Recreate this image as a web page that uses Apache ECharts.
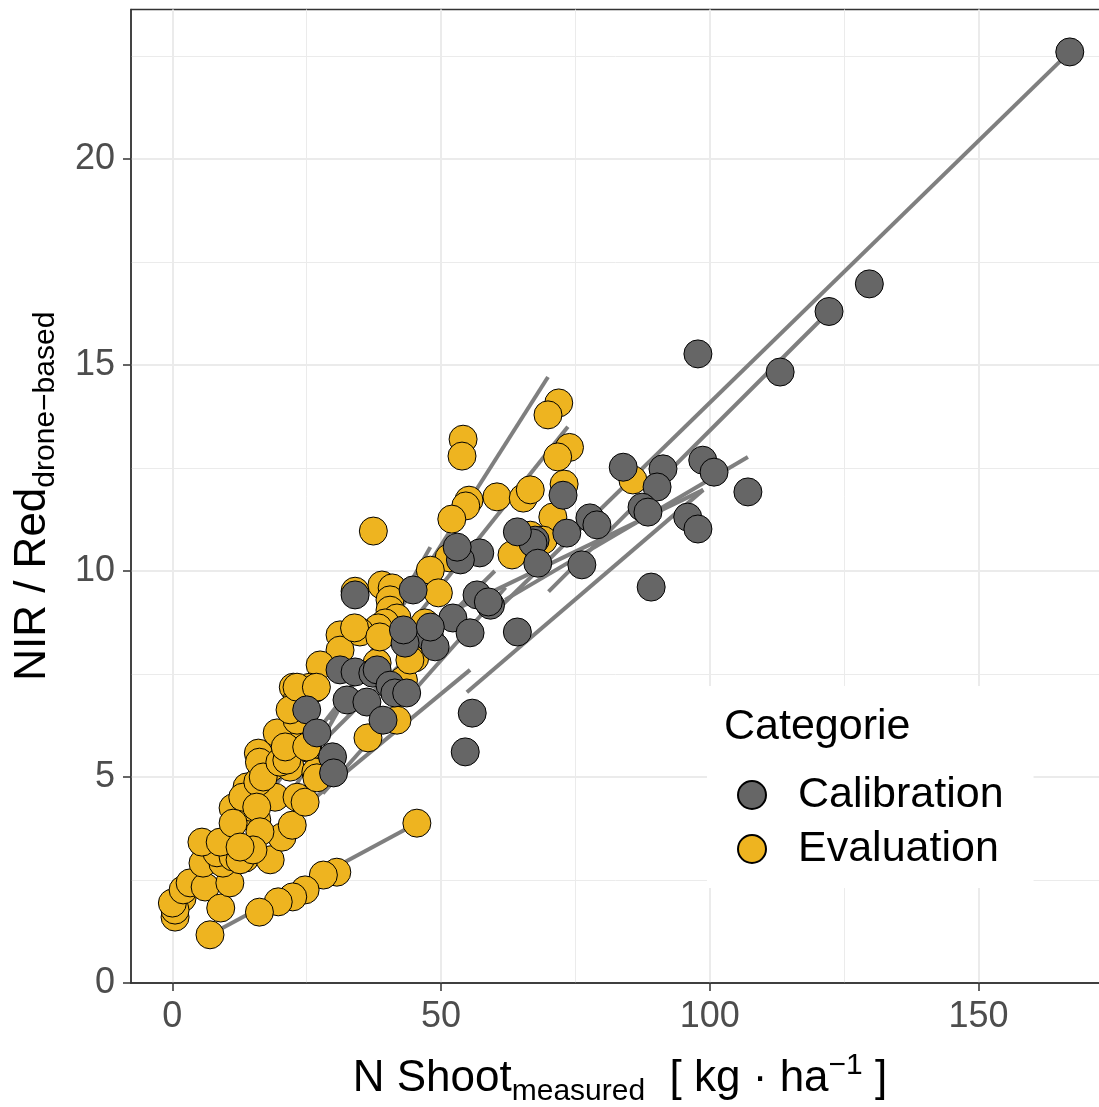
<!DOCTYPE html>
<html><head><meta charset="utf-8">
<script src="https://cdn.jsdelivr.net/npm/echarts@6/dist/echarts.min.js"></script>
<style>html,body{margin:0;padding:0;background:#fff}#c{width:1099px;height:1107px}</style>
</head><body><div id="c"></div>
<script>
const xTicks = [0, 50, 100, 150];
const xMinor = [25, 75, 125];
const yTicks = [0, 5, 10, 15, 20];
const yMinor = [2.5, 7.5, 12.5, 17.5, 22.5];
const categories = ['Calibration', 'Evaluation'];

const calibration = [
  [167.0,22.6],[129.7,16.97],[122.2,16.3],[113.1,14.83],[97.8,15.27],
  [83.9,12.52],[91.3,12.48],[98.7,12.69],[100.8,12.4],[107.1,11.92],[90.2,12.04],[87.4,11.55],[88.5,11.43],
  [95.9,11.31],[97.8,11.02],[77.7,11.29],[79.0,11.12],[73.4,10.92],[76.2,10.15],[89.1,9.61],
  [72.7,11.84],[67.5,10.75],[67.1,10.68],[68.0,10.19],[64.2,10.95],[57.2,10.44],[53.6,10.27],[53.0,10.58],
  [56.7,9.42],[59.2,9.17],[52.2,8.86],[55.4,8.5],[64.2,8.52],[47.9,8.37],[48.9,8.16],[54.5,5.61],[55.8,6.55],
  [44.8,9.54],[43.3,8.25],[43.0,8.57],[48.0,8.64],[31.2,7.6],[34.0,7.55],[37.3,7.52],[38.1,7.6],[40.5,7.23],
  [32.5,6.87],[36.2,6.82],[41.4,7.04],[43.6,7.04],[25.0,6.63],[26.9,6.07],[29.8,5.49],[30.0,5.1],[34.0,9.42],
  [39.2,6.38],[58.8,9.25]
];

const evaluation = [
  [71.9,14.08],[69.9,13.79],[54.1,13.2],[53.9,12.79],[73.9,13.0],[71.7,12.77],[72.9,12.11],[55.2,11.72],
  [54.6,11.58],[60.4,11.8],[65.3,11.77],[66.6,11.97],[52.0,11.26],[70.8,11.31],[85.7,12.21],[51.5,10.32],
  [63.2,10.39],[66.6,10.87],[69.0,10.75],[48.0,10.02],[49.5,9.47],[47.0,8.74],[37.4,10.97],[34.0,9.51],
  [39.0,9.66],[40.9,9.59],[40.5,9.3],[40.5,9.05],[41.8,8.86],[39.6,8.74],[38.3,8.62],[45.1,7.89],[43.0,7.35],
  [41.8,6.38],[36.4,5.95],[31.2,8.45],[34.9,8.52],[31.2,8.08],[27.5,7.72],[38.1,7.77],[22.5,7.18],[26.6,7.16],
  [23.2,6.87],[22.5,6.5],[21.6,6.07],[25.2,5.7],[16.0,5.58],[19.5,6.07],[18.5,5.24],[21.9,5.24],[26.7,5.12],
  [44.2,7.84],[33.9,8.62],[38.6,8.4],[25.6,7.18],
  [45.5,3.88],[30.6,2.69],[28.1,2.62],[24.7,2.26],[22.4,2.09],[19.7,1.97],[16.2,1.72],[7.0,1.17],
  [1.8,2.06],[0.5,1.6],[0.5,1.77],[0.0,1.94],[2.0,2.26],[3.3,2.43],[6.1,2.33],[9.0,1.82],[10.7,2.43],
  [5.7,2.91],[9.4,2.91],[8.3,3.16],[11.3,3.06],[13.5,3.03],[12.6,2.99],[18.2,2.99],[5.5,3.42],[10.3,3.47],
  [8.9,3.42],[15.7,3.96],[20.4,3.54],[22.3,3.83],[11.3,4.25],[14.4,4.27],[16.9,4.56],[19.1,4.51],[23.2,4.51],
  [24.7,4.39],[13.9,4.76],[13.1,4.51],[15.9,4.88],[15.7,4.27],[11.3,3.88],[16.3,3.67],[15.0,3.23],[12.6,3.3],
  [16.2,5.36],[16.9,5.0],[20.0,5.36],[21.3,5.41],[21.0,5.73],[25.0,5.73],[23.2,6.38],[21.9,6.63],[23.2,7.18],
  [26.8,7.18],[26.9,4.98]
];

// fitted line segments: [x1, y1, x2, y2]
const fitLines = [
  [60, 9.0, 167, 22.6],
  [70, 9.5, 122.2, 16.3],
  [7.0, 1.17, 45.5, 3.88],
  [23.8, 4.2, 55.4, 7.6],
  [54.8, 7.06, 98.8, 11.97],
  [61.9, 9.3, 107.1, 12.77],
  [29.3, 6.38, 69.9, 14.71],
  [42.4, 8.4, 73.6, 13.5],
  [22.5, 4.68, 48.0, 10.58],
  [50, 8.9, 98.8, 11.97],
  [12, 3.6, 40, 8.3],
  [26, 5.6, 60, 10.0],
  [28, 4.6, 62, 9.6]
];

const FONT = 'Liberation Sans, Arial, sans-serif';
const chart = echarts.init(document.getElementById('c'), null, {renderer: 'canvas'});

const gridLineSeries = {
  type: 'line', data: [], z: 0, silent: true,
  markLine: {
    z: 0, zlevel: 0,
    silent: true, symbol: ['none', 'none'], animation: false, label: {show: false},
    emphasis: {disabled: true},
    data: [].concat(
      xMinor.map(v => ({xAxis: v, lineStyle: {color: '#EBEBEB', width: 1, type: 'solid'}})),
      yMinor.map(v => ({yAxis: v, lineStyle: {color: '#EBEBEB', width: 1, type: 'solid'}})),
      xTicks.map(v => ({xAxis: v, lineStyle: {color: '#EBEBEB', width: 2, type: 'solid'}})),
      yTicks.slice(1).map(v => ({yAxis: v, lineStyle: {color: '#EBEBEB', width: 2, type: 'solid'}}))
    )
  }
};

const lineSeries = fitLines.map(s => ({
  type: 'line', data: [[s[0], s[1]], [s[2], s[3]]], symbol: 'none', z: 1, silent: true,
  lineStyle: {color: '#7F7F7F', width: 4}, animation: false
}));

const pointStyle = (color) => ({color: color, borderColor: '#000', borderWidth: 1, opacity: 1});

chart.setOption({
  animation: false,
  backgroundColor: '#fff',
  grid: {left: 131, right: -10, top: 9.5, bottom: 124, outerBoundsMode: 'none', containLabel: false,
         show: true, borderColor: '#333', borderWidth: 1.3, backgroundColor: 'transparent'},
  xAxis: {
    type: 'value', min: -7.7, max: 174.3,
    axisLine: {show: true, onZero: false, lineStyle: {color: '#333', width: 1.5}},
    axisTick: {show: true, length: 8, lineStyle: {color: '#333', width: 1.5}, customValues: xTicks},
    axisLabel: {show: true, customValues: xTicks, color: '#4D4D4D', fontSize: 36, fontFamily: FONT, margin: 16},
    splitLine: {show: false},
    name: '{m|N Shoot}{s|measured}{m|  [ kg · ha}{p|−1}{m| ]}',
    nameLocation: 'middle', nameGap: 68,
    nameTextStyle: {
      fontFamily: FONT, color: '#000',
      rich: {
        m: {fontSize: 44, lineHeight: 56, fontFamily: FONT, color: '#000'},
        s: {fontSize: 30, lineHeight: 30, verticalAlign: 'bottom', fontFamily: FONT, color: '#000'},
        p: {fontSize: 30, lineHeight: 30, verticalAlign: 'top', fontFamily: FONT, color: '#000'}
      }
    }
  },
  yAxis: {
    type: 'value', min: 0, max: 23.63,
    axisLine: {show: true, onZero: false, lineStyle: {color: '#333', width: 1.5}},
    axisTick: {show: true, length: 8, lineStyle: {color: '#333', width: 1.5}, customValues: yTicks},
    axisLabel: {show: true, customValues: yTicks, color: '#4D4D4D', fontSize: 36, fontFamily: FONT, margin: 16},
    splitLine: {show: false},
    name: '{m|NIR / Red}{s|drone−based}',
    nameLocation: 'middle', nameGap: 70,
    nameTextStyle: {
      fontFamily: FONT, color: '#000',
      rich: {
        m: {fontSize: 44, lineHeight: 56, fontFamily: FONT, color: '#000'},
        s: {fontSize: 30, lineHeight: 30, verticalAlign: 'bottom', fontFamily: FONT, color: '#000'}
      }
    }
  },
  legend: {
    show: true, orient: 'vertical', left: 707, top: 686, z: 10,
    data: categories, icon: 'circle', itemWidth: 28, itemHeight: 28, itemGap: 4,
    padding: [84, 30, 14, 30], backgroundColor: '#fff',
    textStyle: {fontSize: 43, fontFamily: FONT, color: '#000', lineHeight: 50, padding: [0, 0, 0, 27]},
    selectedMode: false
  },
  graphic: [{
    type: 'text', x: 724, y: 727, z: 100,
    style: {text: 'Categorie', fontSize: 43, fontFamily: FONT, fill: '#000', verticalAlign: 'middle'}
  }],
  series: [gridLineSeries].concat(lineSeries, [
    {name: categories[1], type: 'scatter', data: evaluation, symbolSize: 28, z: 3, itemStyle: pointStyle('#EEB420')},
    {name: categories[0], type: 'scatter', data: calibration, symbolSize: 28, z: 3, itemStyle: pointStyle('#666666')}
  ])
});
</script>
</body></html>
